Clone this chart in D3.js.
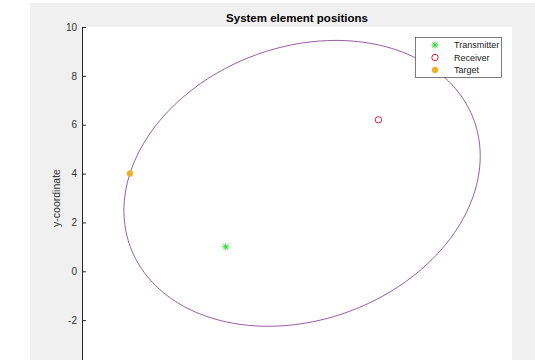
<!DOCTYPE html>
<html>
<head>
<meta charset="utf-8">
<script src="https://cdn.jsdelivr.net/npm/d3@7"></script>
<style>
  body { margin: 0; background: #fff; }
  text { font-family: "Liberation Sans", Arial, Helvetica, sans-serif; }
</style>
</head>
<body>
<svg id="chart" width="535" height="360"></svg>
<script>
// System elements: transmitter, receiver and target positions
const seriesNames = ["Transmitter", "Receiver", "Target"];
const pointX = [2.68, 7.65, -0.44];
const pointY = [1.0, 6.2, 4.0];
const yTicks = [-2, 0, 2, 4, 6, 8, 10];
const xDomain = [-2, 12];
const yDomain = [-4, 10];

const svg = d3.select("#chart");
const W = 535, H = 360;
const plot = { left: 82, right: 512, top: 27, bottom: 369 };

// figure background and white axes area
svg.append("rect").attr("x", 0).attr("y", 0).attr("width", W).attr("height", H).attr("fill", "#ffffff");
svg.append("rect").attr("x", 30).attr("y", 3).attr("width", W - 30).attr("height", H - 3).attr("fill", "#f0f0f0");
svg.append("rect").attr("x", plot.left).attr("y", plot.top)
   .attr("width", plot.right - plot.left).attr("height", plot.bottom - plot.top).attr("fill", "#ffffff");

const x = d3.scaleLinear().domain(xDomain).range([plot.left, plot.right]);
const y = d3.scaleLinear().domain(yDomain).range([plot.bottom, plot.top]);

// constant-range (bistatic) ellipse: foci at transmitter and receiver, passing through target
const T = [pointX[0], pointY[0]], R = [pointX[1], pointY[1]], G = [pointX[2], pointY[2]];
const dist = (p, q) => Math.hypot(p[0] - q[0], p[1] - q[1]);
const a = (dist(T, G) + dist(G, R)) / 2;
const c = dist(T, R) / 2;
const b = Math.sqrt(a * a - c * c);
const cx = (T[0] + R[0]) / 2, cy = (T[1] + R[1]) / 2;
const th = Math.atan2(R[1] - T[1], R[0] - T[0]);
const ellipse = d3.range(0, 361).map(deg => {
  const t = deg * Math.PI / 180;
  const ex = a * Math.cos(t), ey = b * Math.sin(t);
  return [cx + ex * Math.cos(th) - ey * Math.sin(th), cy + ex * Math.sin(th) + ey * Math.cos(th)];
});

const clip = svg.append("clipPath").attr("id", "plotclip");
clip.append("rect").attr("x", plot.left).attr("y", plot.top)
    .attr("width", plot.right - plot.left).attr("height", plot.bottom - plot.top);
const g = svg.append("g").attr("clip-path", "url(#plotclip)");

g.append("path")
  .datum(ellipse)
  .attr("d", d3.line().x(d => x(d[0])).y(d => y(d[1])))
  .attr("fill", "none")
  .attr("stroke", "#7e2f8e")
  .attr("stroke-width", 0.8);

// marker drawers
const starPath = (s) => {
  const r = s / 2, d = r * 0.72;
  return `M${-r},0L${r},0M0,${-r}L0,${r}M${-d},${-d}L${d},${d}M${-d},${d}L${d},${-d}`;
};
function drawMarker(sel, i, px, py) {
  if (i === 0) {
    sel.append("path").attr("d", starPath(7)).attr("transform", `translate(${px},${py})`)
       .attr("stroke", "#22dd22").attr("stroke-width", 1).attr("fill", "none");
  } else if (i === 1) {
    sel.append("circle").attr("cx", px).attr("cy", py).attr("r", 3.2)
       .attr("fill", "none").attr("stroke", "#e02030").attr("stroke-width", 1);
  } else {
    sel.append("circle").attr("cx", px).attr("cy", py).attr("r", 3)
       .attr("fill", "#edb120").attr("stroke", "#edb120").attr("stroke-width", 0.5);
  }
}
seriesNames.forEach((n, i) => drawMarker(g, i, x(pointX[i]), y(pointY[i])));

// y axis, ticks pointing inward
const yAxis = d3.axisLeft(y).tickValues(yTicks).tickSizeInner(-4).tickSizeOuter(0).tickPadding(5)
  .tickFormat(d => d < 0 ? "-" + Math.abs(d) : d);
const ya = svg.append("g").attr("transform", `translate(${plot.left},0)`).call(yAxis);
ya.select(".domain").attr("stroke", "#262626").attr("stroke-width", 1);
ya.selectAll(".tick line").attr("stroke", "#262626");
ya.selectAll(".tick text").attr("fill", "#333333").attr("font-size", 10)
  .attr("font-family", "'Liberation Sans', Arial, sans-serif");

// axis label
svg.append("text")
  .attr("transform", `translate(60,${(plot.top + plot.bottom) / 2}) rotate(-90)`)
  .attr("text-anchor", "middle").attr("font-size", 10.5).attr("fill", "#333333")
  .text("y-coordinate");

// title
svg.append("text")
  .attr("x", (plot.left + plot.right) / 2).attr("y", 22)
  .attr("text-anchor", "middle").attr("font-size", 11.5).attr("font-weight", "bold").attr("fill", "#000")
  .text("System element positions");

// legend
const lg = svg.append("g");
lg.append("rect").attr("x", 415.5).attr("y", 37.5).attr("width", 86).attr("height", 40)
  .attr("fill", "#fff").attr("stroke", "#262626").attr("stroke-width", 0.6);
seriesNames.forEach((n, i) => {
  const ly = 45 + i * 12.5;
  drawMarker(lg, i, 435, ly);
  lg.append("text").attr("x", 454).attr("y", ly).attr("dy", "0.35em")
    .attr("font-size", 9).attr("fill", "#1a1a1a").text(n);
});
</script>
</body>
</html>
